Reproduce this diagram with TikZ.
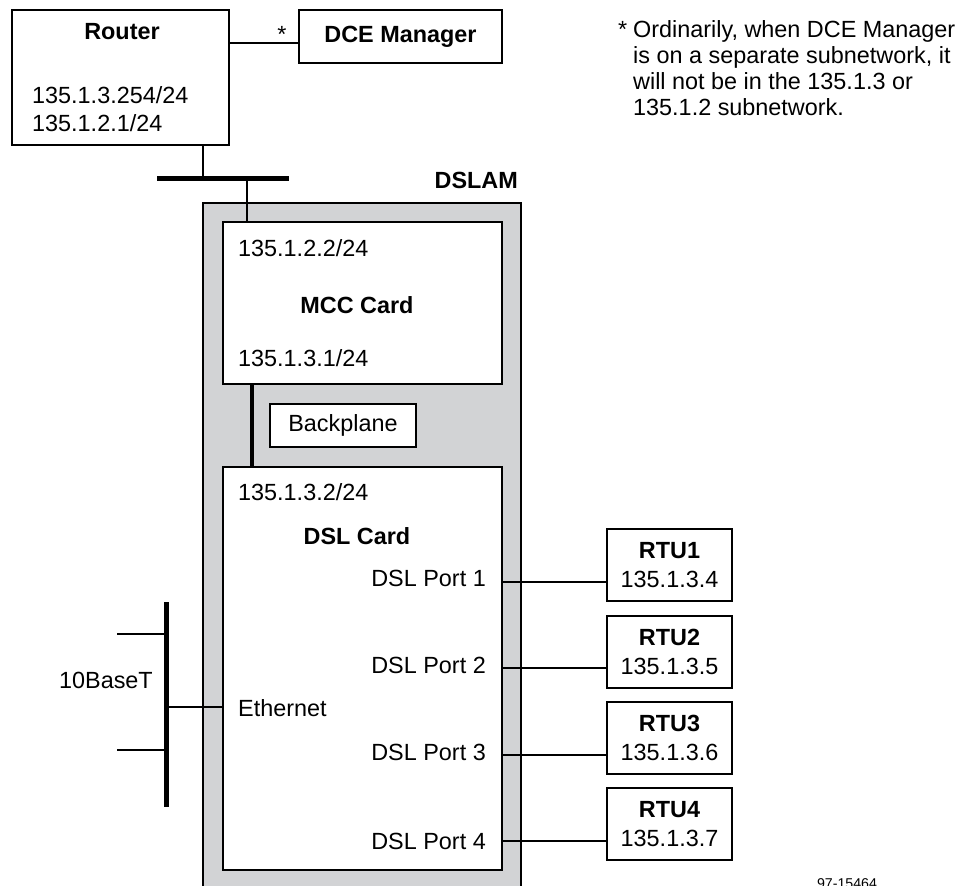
\documentclass[tikz,border=0pt]{standalone}
\usepackage{fontspec}
\setmainfont{Liberation Sans}
\definecolor{dslamgray}{RGB}{210,211,213}
\tikzset{
  every node/.style={font=\fontsize{23.4}{28}\selectfont, inner sep=0pt},
  box/.style={draw, line width=2pt, fill=white},
  thin/.style={line width=1.3pt},
  bar/.style={line width=5pt},
  bpline/.style={line width=3.5pt},
  bold/.style={font=\fontsize{23.4}{28}\selectfont\bfseries},
  note/.style={anchor=base west},
}
\begin{document}
\begin{tikzpicture}[x=1pt,y=-1pt]
\useasboundingbox (0,0) rectangle (969,886);
% DSLAM enclosure
\node[box, fill=dslamgray, minimum width=318pt, minimum height=697pt] (dslam) at (362,551.5) {};
\node[bold, anchor=east] (dslamlbl) at (518,180) {DSLAM};
% Router and DCE
\node[box, minimum width=217pt, minimum height=135pt] (router) at (120.5,77.5) {};
\node[bold] (routerlbl) at (122,32) {Router};
\node[anchor=west] (rip1) at (32,95) {135.1.3.254/24};
\node[anchor=west] (rip2) at (32,123) {135.1.2.1/24};
\node[box, minimum width=203pt, minimum height=53pt, bold] (dce) at (400.5,36.5) {DCE Manager};
\coordinate (dl) at (260,43);
\draw[thin] (dce.west |- dl) -- (router.east |- dl);
\node (star) at (282,34) {*};
% backbone bar
\coordinate (barL) at (157,178);
\coordinate (barR) at (289,178);
\coordinate (rb) at (203,178);
\coordinate (mb) at (247,178);
\draw[bar] (barL) -- (barR);
\draw[thin] (router.south -| rb) -- (rb);
% MCC card
\node[box, minimum width=279pt, minimum height=162pt] (mcc) at (362.5,303) {};
\draw[thin] (mb) -- (mb |- mcc.north);
\node[anchor=west] (mip1) at (238,248) {135.1.2.2/24};
\node[bold] (mcclbl) at (357,305) {MCC Card};
\node[anchor=west] (mip2) at (238,358) {135.1.3.1/24};
% Backplane
\node[box, minimum width=146pt, minimum height=43pt] (bp) at (343,425.5) {Backplane};
% DSL card
\node[box, minimum width=279pt, minimum height=403pt] (dsl) at (362.5,668.5) {};
\coordinate (bpx) at (252,420);
\draw[bpline] (mcc.south -| bpx) -- (dsl.north -| bpx);
\node[anchor=west] (dip) at (238,492) {135.1.3.2/24};
\node[bold] (dsllbl) at (357,536) {DSL Card};
\node[anchor=east] (p1) at (486,578) {DSL Port 1};
\node[anchor=east] (p2) at (486,665) {DSL Port 2};
\node[anchor=east] (p3) at (486,752) {DSL Port 3};
\node[anchor=east] (p4) at (486,841) {DSL Port 4};
\node[anchor=west] (eth) at (238,708) {Ethernet};
% RTUs
\foreach \i/\y/\ip in {1/565/4, 2/652/5, 3/738/6, 4/824/7}{
  \node[box, minimum width=125pt, minimum height=72pt, align=center,
        font=\fontsize{23.4}{29}\selectfont] (rtu\i) at (669.5,\y)
        {\textbf{RTU\i}\\135.1.3.\ip};
}
\coordinate (l1) at (550,582);
\coordinate (l2) at (550,668);
\coordinate (l3) at (550,755);
\coordinate (l4) at (550,841);
\foreach \i in {1,2,3,4}{
  \draw[thin] (dsl.east |- l\i) -- (rtu\i.west |- l\i);
}
% 10BaseT
\coordinate (tbT) at (166,602);
\coordinate (tbB) at (166,807);
\coordinate (tbE) at (166,707);
\coordinate (s1) at (117,634);
\coordinate (s2) at (117,750);
\draw[bar, line cap=butt] (tbT) -- (tbB);
\draw[thin] (tbE) -- (dsl.west |- tbE);
\draw[thin] (s1) -- (tbT |- s1);
\draw[thin] (s2) -- (tbT |- s2);
\node[anchor=east] (tbl) at (153,680) {10BaseT};
% footnote
\node[note] (fstar) at (618,37) {*};
\node[note] (fn1) at (633,37) {Ordinarily, when DCE Manager};
\node[note] (fn2) at (633,63) {is on a separate subnetwork, it};
\node[note] (fn3) at (633,89) {will not be in the 135.1.3 or};
\node[note] (fn4) at (633,115) {135.1.2 subnetwork.};
\node[anchor=base, font=\fontsize{14.2}{16}\selectfont] (code) at (847,888.5) {97-15464};
\end{tikzpicture}
\end{document}
